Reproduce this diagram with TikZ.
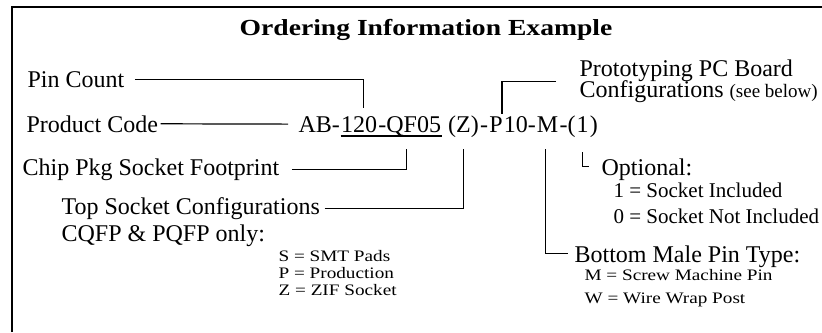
\documentclass[tikz,border=0pt]{standalone}
\usepackage{fontspec}
\setmainfont{Liberation Serif}
\newfontfamily\titlefont{Liberation Serif}[FakeStretch=1.2]
\newfontfamily\smallfont{Liberation Serif}[FakeStretch=1.2]
\begin{document}
\begin{tikzpicture}[x=0.5pt, y=-0.5pt, line width=0.6pt,
  lbl/.style={inner sep=0pt, anchor=base west, font=\fontsize{12}{14}\selectfont},
  mid/.style={lbl, font=\fontsize{10.5}{12}\selectfont},
  tiny/.style={lbl, font=\smallfont\fontsize{8}{9}\selectfont}]
  \useasboundingbox (0,0) rectangle (822,332);
  \draw[line width=1pt] (12,332) -- (12,7) -- (822,7);
  \node[lbl, anchor=base, font=\titlefont\bfseries\fontsize{11.5}{13}\selectfont] (title) at (426,35) {Ordering Information Example};
  % left labels
  \node[lbl] (pin) at (27,87) {Pin Count};
  \node[lbl] (prod) at (26,132) {Product Code};
  \node[lbl] (chip) at (22,175) {Chip Pkg Socket Footprint};
  \node[lbl] (top1) at (61,214) {Top Socket Configurations};
  \node[lbl] (top2) at (61,241) {CQFP \& PQFP only:};
  \foreach \t [count=\i] in {S = SMT Pads, P = Production, Z = ZIF Socket}
    \node[tiny] (sock\i) at (278,244+17*\i) {\t};
  % the part number, piece by piece
  \node[lbl] (cA) at (298,132) {AB-};
  \node[lbl] (cB) at (cA.base east) {120};
  \node[lbl] (cC) at (cB.base east) {-QF05};
  \node[lbl] (cD) at ([xshift=3pt]cC.base east) {(Z)};
  \node[lbl] (cE) at (cD.base east) {-};
  \node[lbl] (cF) at (cE.base east) {P};
  \node[lbl] (cG) at (cF.base east) {10-};
  \node[lbl] (cH) at (cG.base east) {M};
  \node[lbl] (cI) at (cH.base east) {-(};
  \node[lbl] (cJ) at (cI.base east) {1};
  \node[lbl] (cK) at (cJ.base east) {)};
  \draw ([yshift=-2pt]cB.base west) -- ([yshift=-2pt]cC.base east);
  % right labels
  \node[lbl] (proto1) at (579,76) {Prototyping PC Board};
  \node[lbl] (proto2) at (579,97) {Configurations {\fontsize{9.5}{12}\selectfont(see below)}};
  \node[lbl] (opt) at (601,175) {Optional:};
  \foreach \t [count=\i] in {1 = Socket Included, 0 = Socket Not Included}
    \node[mid] (inc\i) at (613,171+26*\i) {\t};
  \node[lbl] (bot) at (574,262) {Bottom Male Pin Type:};
  \foreach \t [count=\i] in {M = Screw Machine Pin, W = Wire Wrap Post}
    \node[tiny] (pin\i) at (584,257+23*\i) {\t};
  % connectors
  \draw ([xshift=5pt]pin.east) -| ([xshift=2pt,yshift=12pt]cB.base);
  \draw ([xshift=1pt]prod.east) -- ([xshift=-5pt]cA.west);
  \draw ([xshift=6pt]chip.east) -| ([xshift=-1.5pt,yshift=-8.5pt]cC.base);
  \draw ([xshift=2pt]top1.east) -| ([yshift=-8.5pt]cD.base);
  \draw ([xshift=-11.5pt]proto1.south west) -| ([xshift=3pt,yshift=9pt]cF.base);
  \draw ([yshift=-10pt]cJ.base) |- ([xshift=-6pt,yshift=1.5pt]opt.west);
  \draw ([xshift=-1pt,yshift=-8.5pt]cH.base) |- ([xshift=-3pt,yshift=1.5pt]bot.west);
\end{tikzpicture}
\end{document}
